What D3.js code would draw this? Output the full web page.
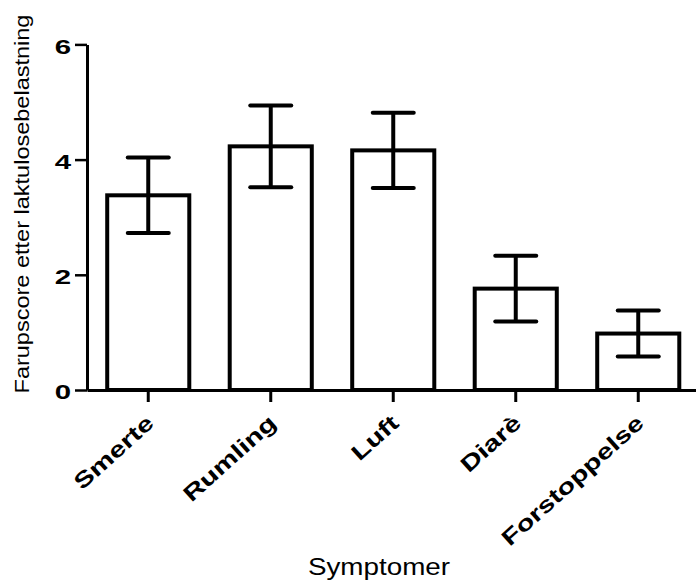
<!DOCTYPE html>
<html>
<head>
<meta charset="utf-8">
<script src="https://cdn.jsdelivr.net/npm/d3@7"></script>
<style>
  html, body { margin: 0; padding: 0; background: #fff; }
  svg { display: block; }
  text { font-family: "Liberation Sans", Arial, sans-serif; fill: #000; }
</style>
</head>
<body>
<div id="chart"></div>
<script>
const categories = ["Smerte", "Rumling", "Luft", "Diarè", "Forstoppelse"];
const means = [3.38, 4.23, 4.16, 1.76, 0.98];
const sem = [0.655, 0.71, 0.655, 0.57, 0.40];
const yTicks = [0, 2, 4, 6];
const yTitle = "Farupscore etter laktulosebelastning";
const xTitle = "Symptomer";

const W = 696, H = 581;
const svg = d3.select("#chart").append("svg").attr("width", W).attr("height", H);

const x = d3.scaleBand().domain(categories).range([87, 699.5])
  .paddingInner(0.33).paddingOuter(0.165);
const y = d3.scaleLinear().domain([0, 6]).range([390, 44.4]);

const data = categories.map((c, i) => ({ c, m: means[i], e: sem[i] }));

// bars
svg.append("g").selectAll("rect").data(data).join("rect")
  .attr("x", d => x(d.c))
  .attr("width", x.bandwidth())
  .attr("y", d => y(d.m))
  .attr("height", d => y(0) - y(d.m))
  .attr("fill", "#fff")
  .attr("stroke", "#000")
  .attr("stroke-width", 4);

// error bars
const eg = svg.append("g").attr("stroke", "#000").attr("stroke-width", 4);
eg.selectAll("line.v").data(data).join("line").attr("class", "v")
  .attr("x1", d => x(d.c) + x.bandwidth() / 2)
  .attr("x2", d => x(d.c) + x.bandwidth() / 2)
  .attr("y1", d => y(d.m - d.e))
  .attr("y2", d => y(d.m + d.e));
["hi", "lo"].forEach(k => {
  eg.selectAll("line." + k).data(data).join("line").attr("class", k)
    .attr("stroke-linecap", "round")
    .attr("x1", d => x(d.c) + x.bandwidth() / 2 - 20.5)
    .attr("x2", d => x(d.c) + x.bandwidth() / 2 + 20.5)
    .attr("y1", d => y(k === "hi" ? d.m + d.e : d.m - d.e))
    .attr("y2", d => y(k === "hi" ? d.m + d.e : d.m - d.e));
});

// y axis
const ya = svg.append("g").attr("transform", "translate(87,0)")
  .call(d3.axisLeft(y).tickValues(yTicks).tickFormat(d3.format("d")).tickSize(12).tickSizeOuter(0));
ya.select(".domain").attr("stroke-width", 3);
ya.selectAll(".tick line").attr("stroke-width", 2.5);
ya.selectAll(".tick text")
  .attr("x", null).attr("dy", null)
  .attr("text-anchor", "end")
  .attr("font-family", "Liberation Sans, Arial, sans-serif")
  .attr("font-size", 21).attr("font-weight", "bold")
  .attr("transform", "translate(-16,8.6) scale(1.4,1)");

// x axis
const xa = svg.append("g").attr("transform", "translate(0,390)")
  .call(d3.axisBottom(x).tickSize(12).tickSizeOuter(0));
xa.select(".domain").attr("stroke-width", 3);
xa.selectAll(".tick line").attr("stroke-width", 3);
xa.selectAll(".tick text")
  .attr("y", null).attr("dy", null)
  .attr("text-anchor", "end")
  .attr("font-family", "Liberation Sans, Arial, sans-serif")
  .attr("font-size", 22).attr("font-weight", "bold")
  .attr("transform", "translate(7,35) rotate(-42) scale(1.32,1)");

// axis titles
svg.append("text")
  .attr("transform", "translate(29,204) rotate(-90) scale(1.12,1)")
  .attr("text-anchor", "middle")
  .attr("font-size", 21)
  .text(yTitle);

svg.append("text")
  .attr("transform", "translate(379,575) scale(1.21,1)")
  .attr("text-anchor", "middle")
  .attr("font-size", 23)
  .text(xTitle);
</script>
</body>
</html>
